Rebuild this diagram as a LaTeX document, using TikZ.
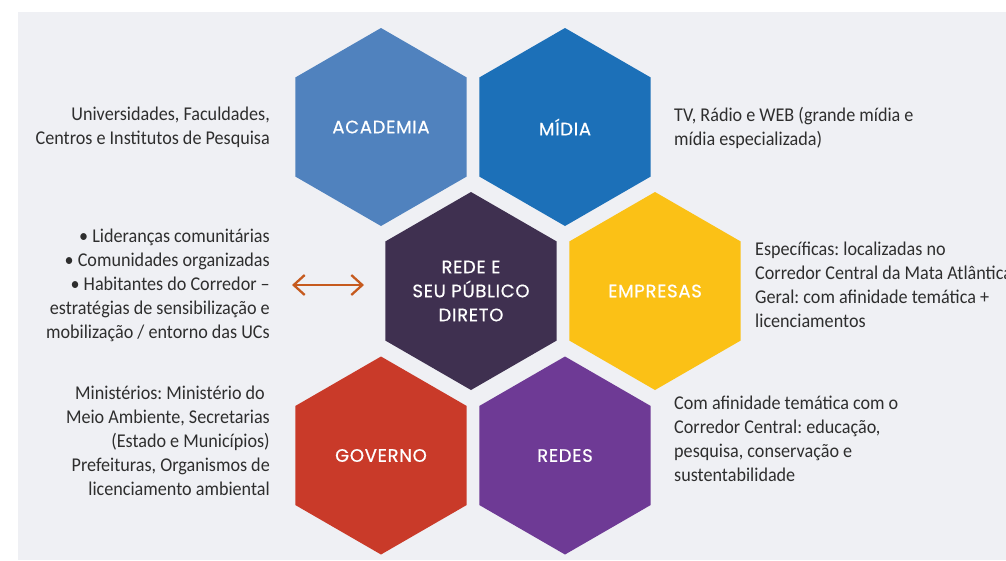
\documentclass[tikz,border=0pt]{standalone}
\usepackage{fontspec}
\setmainfont{Carlito}[FakeStretch=0.93]
\newfontfamily\hexfont[LetterSpace=4,FakeBold=0.6]{Poppins}
\usetikzlibrary{shapes.geometric,arrows.meta}
\definecolor{bg}{HTML}{EFF0F4}
\definecolor{cacad}{HTML}{5082BE}
\definecolor{cmidia}{HTML}{1C70B8}
\definecolor{crede}{HTML}{3F3050}
\definecolor{cemp}{HTML}{FBC116}
\definecolor{cgov}{HTML}{C93A29}
\definecolor{credes}{HTML}{6E3A95}
\definecolor{carrow}{HTML}{C65A1E}
\definecolor{ctext}{HTML}{2E2E2E}
\frenchspacing
\begin{document}
\begin{tikzpicture}[x=1pt,y=-1pt,
  hexa/.style={regular polygon, regular polygon sides=6, shape border rotate=90,
    minimum size=198pt, inner sep=0pt, text=white,
    font=\hexfont\fontsize{18}{24}\selectfont, align=center},
  desc/.style={text=ctext, font=\fontsize{19.5}{24}\selectfont, inner sep=0pt},
  descl/.style={desc, anchor=east, align=right},
  descr/.style={desc, anchor=west, align=left},
  biarrow/.style={draw=carrow, line width=2.3pt,
    {Straight Barb[length=11pt,width=20pt]}-{Straight Barb[length=11pt,width=20pt]}}
]
\useasboundingbox (0,0) rectangle (1006,560);
\clip (0,0) rectangle (1006,560);
\fill[bg] (18,12) rectangle (1006,560);

\node[hexa, fill=cacad]  (acad)  at (381,127)   {ACADEMIA};
\node[hexa, fill=cmidia] (midia) at (565,127)   {MÍDIA};
\node[hexa, fill=crede]  (rede)  at (471,291)   {REDE E\\SEU PÚBLICO\\DIRETO};
\node[hexa, fill=cemp]   (emp)   at (655,291)   {EMPRESAS};
\node[hexa, fill=cgov]   (gov)   at (381,455.5) {GOVERNO};
\node[hexa, fill=credes] (redes) at (565,455.5) {REDES};

\node[descl] (tacad) at (270,127.5) {Universidades, Faculdades,\\Centros e Institutos de Pesquisa};
\node[descr] (tmidia) at (674,128) {TV, Rádio e WEB (grande mídia e\\mídia especializada)};
\node[descl] (trede) at (270,285) {\textbullet\ Lideranças comunitárias\\\textbullet\ Comunidades organizadas\\\textbullet\ Habitantes do Corredor –\\estratégias de sensibilização e\\mobilização / entorno das UCs};
\node[descr] (temp) at (755,284.5) {Específicas: localizadas no\\Corredor Central da Mata Atlântica\\Geral: com afinidade temática +\\licenciamentos};
\node[descl] (tgov) at (270,441) {Ministérios: Ministério do\hspace*{5pt}\\Meio Ambiente, Secretarias\\(Estado e Municípios)\\Prefeituras, Organismos de\hspace*{10pt}\\licenciamento ambiental};
\node[descr] (tredes) at (674,439) {Com afinidade temática com o\\Corredor Central: educação,\\pesquisa, conservação e\\sustentabilidade};

\coordinate (al) at (292,285);
\coordinate (ar) at (364,285);
\draw[biarrow] (al) -- (ar);
\end{tikzpicture}
\end{document}
